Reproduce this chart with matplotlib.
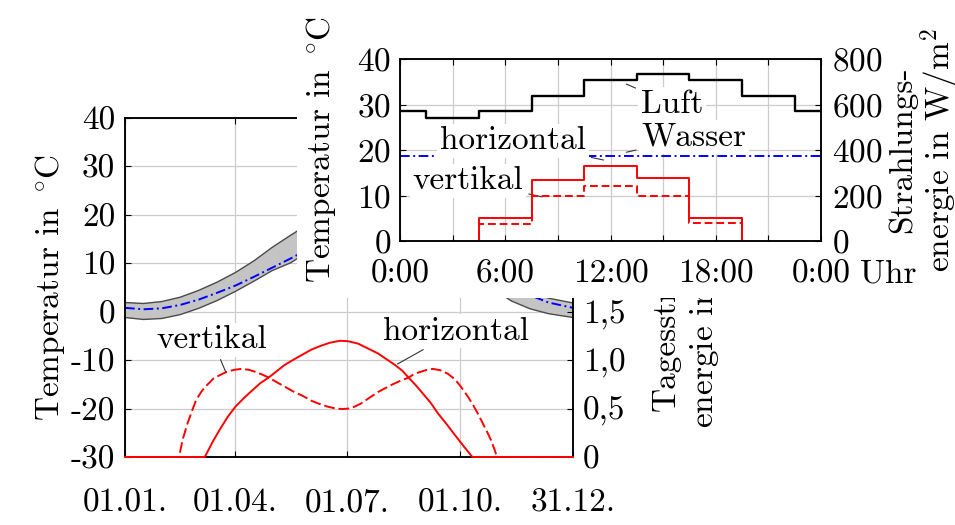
import matplotlib
matplotlib.use("Agg")
import matplotlib.pyplot as plt
from matplotlib.patches import Rectangle

plt.rcParams['font.family'] = 'cmr10'
plt.rcParams['mathtext.fontset'] = 'cm'
plt.rcParams['axes.unicode_minus'] = False
plt.rcParams['axes.formatter.use_mathtext'] = True
plt.rcParams['font.size'] = 24
plt.rcParams['axes.linewidth'] = 1.1

# --- Jahresverlauf (Tag im Jahr) ---
tage = [0, 15, 30, 45, 60, 75, 90, 105, 120, 135, 150, 165, 180,
        195, 210, 225, 240, 255, 270, 285, 300, 315, 330, 345, 365]
luft_max = [1.9, 1.7, 2.1, 3.0, 4.4, 6.1, 8.1, 10.5, 13.3, 15.8, 18.2, 20.6, 22.4,
            23.5, 23.8, 23.2, 21.6, 19.0, 15.8, 12.4, 9.2, 6.4, 4.2, 2.8, 1.8]
luft_min = [-1.2, -1.6, -1.4, -0.6, 0.7, 2.3, 4.2, 6.3, 8.5, 10.1, 12.5, 14.5, 16.0,
            17.0, 17.3, 16.8, 15.3, 12.8, 10.0, 7.2, 4.6, 2.2, 0.6, -0.4, -1.2]
wasser_jahr = [0.8, 0.5, 0.7, 1.4, 2.5, 3.9, 5.4, 7.2, 9.1, 11.0, 13.0, 15.0, 16.6,
               17.8, 18.5, 18.6, 17.9, 16.2, 13.8, 11.0, 8.2, 5.6, 3.4, 1.9, 0.8]

tage_hor = [0, 65, 72, 78, 84, 90, 97, 103, 110, 117, 124, 130, 138, 145, 152, 160,
            167, 175, 182, 190, 198, 206, 213, 220, 226, 231, 237, 243, 249, 255,
            262, 268, 276, 283, 365]
strahl_hor = [0, 0, 0.17, 0.30, 0.42, 0.52, 0.61, 0.68, 0.76, 0.82, 0.89, 0.95, 1.01, 1.06, 1.11, 1.15,
              1.18, 1.20, 1.195, 1.17, 1.12, 1.07, 1.01, 0.95, 0.89, 0.82, 0.74, 0.65, 0.56, 0.45,
              0.34, 0.24, 0.11, 0, 0]
tage_vert = [0, 44, 47, 51, 55, 58, 62, 65, 69, 72, 78, 83, 89, 95, 101, 106, 112, 117,
             124, 131, 138, 145, 152, 158, 165, 172, 177, 182, 187, 192, 199, 206, 212,
             218, 225, 231, 236, 241, 246, 251, 257, 263, 269, 274, 279, 283, 287, 291,
             295, 298, 301, 303, 365]
strahl_vert = [0, 0, 0.18, 0.35, 0.49, 0.59, 0.67, 0.72, 0.77, 0.81, 0.85, 0.88, 0.90, 0.91, 0.90, 0.88, 0.85, 0.82,
               0.77, 0.72, 0.67, 0.63, 0.58, 0.55, 0.52, 0.50, 0.495, 0.50, 0.52, 0.55, 0.61, 0.67, 0.71,
               0.75, 0.79, 0.82, 0.86, 0.88, 0.90, 0.91, 0.895, 0.86, 0.80, 0.72, 0.63, 0.55, 0.46, 0.36,
               0.26, 0.18, 0.08, 0, 0]

datum_pos = [0, 90, 181, 273, 365]
datum_txt = ['01.01.', '01.04.', '01.07.', '01.10.', '31.12.']
kwh_pos = [0, 0.5, 1.0, 1.5, 2.0, 2.5, 3.0, 3.5]
kwh_txt = ['0', '0,5', '1,0', '1,5', '', '', '', '']

# --- Tagesverlauf (Stunden) ---
stunden = [0, 3, 6, 9, 12, 15, 18, 21, 24]
stunden_txt = ['0:00', '', '6:00', '', '12:00', '', '18:00', '', '0:00']
luft_tag = [28.6, 27.1, 28.6, 31.9, 35.4, 36.7, 35.4, 31.9, 28.6]
wasser_tag = [18.7, 18.7, 18.7, 18.7, 18.7, 18.7, 18.7, 18.7, 18.7]
strahl_hor_tag = [0, 0, 100, 268, 330, 276, 102, 0, 0]
strahl_vert_tag = [0, 0, 76, 198, 243, 199, 78, 0, 0]

W, H = 955, 525


def fig_box(l, t, r, b):
    return [l / W, 1 - b / H, (r - l) / W, (b - t) / H]


grau = '#cccccc'
dashdot = (0, (5, 1.8, 1, 1.8))
txtbox = dict(boxstyle='square,pad=0.08', fc='white', ec='none')
zeiger = dict(arrowstyle='-', color='#333333', lw=0.8, shrinkA=2, shrinkB=0)
temp_label = r'Temperatur in $^\circ\!\mathrm{C}$'

fig = plt.figure(figsize=(W / 100, H / 100), dpi=100)

# Hauptdiagramm
ax = fig.add_axes(fig_box(125, 118, 573, 457))
ax.fill_between(tage, luft_min, luft_max, facecolor='#c4c4c4', edgecolor='none', zorder=2)
ax.plot(tage, luft_max, color='#4a4a4a', lw=1.0, zorder=2)
ax.plot(tage, luft_min, color='#4a4a4a', lw=1.0, zorder=2)
ax.plot(tage, wasser_jahr, color='blue', lw=1.4, ls=dashdot, zorder=2)
ax.set_xlim(0, 365)
ax.set_ylim(-30, 40)
ax.set_xticks(datum_pos, datum_txt)
ax.set_yticks(range(-30, 41, 10), ['-30', '-20', '-10', '0', '10', '20', '30', '40'])
ax.grid(True, color=grau, lw=0.9)
ax.set_axisbelow(True)
ax.tick_params(direction='in', length=4, width=0.8, top=True)
ax.tick_params(axis='x', pad=22.5)
ax.tick_params(axis='y', pad=7)
ax.set_ylabel(temp_label)
ax.yaxis.set_label_coords(-0.13, 0.5)

ax2 = ax.twinx()
ax2.set_ylim(0, 3.5)
ax2.set_yticks(kwh_pos, kwh_txt)
ax2.plot(tage_hor, strahl_hor, color='red', lw=1.4, clip_on=False, zorder=3)
ax2.plot(tage_vert, strahl_vert, color='red', lw=1.4, ls=(0, (5.5, 2)), clip_on=False, zorder=3)
ax2.tick_params(direction='in', length=4, width=0.8, pad=7)
ax2.set_ylabel('Tagesstrahlungs-\nenergie in kWh/m$^2$', linespacing=1.05)
ax2.yaxis.set_label_coords(1.176, 0.5)
ax2.annotate('vertikal', xy=(82, 0.88), xytext=(71, 1.21), ha='center', va='center',
             bbox=txtbox, arrowprops=zeiger, zorder=4)
ax2.annotate('horizontal', xy=(222, 0.96), xytext=(270, 1.30), ha='center', va='center',
             bbox=txtbox, arrowprops=zeiger, zorder=4)

# weisser Hintergrund fuer das Tagesdiagramm
fig.add_artist(Rectangle((297 / W, 1 - 298 / H), 1 - 297 / W, 298 / H,
                         transform=fig.transFigure, facecolor='white',
                         edgecolor='none', zorder=1))

# Tagesdiagramm
axi = fig.add_axes(fig_box(400, 59, 821, 241), zorder=2)
axi.step(stunden, luft_tag, where='mid', color='black', lw=1.7)
axi.plot(stunden, wasser_tag, color='blue', lw=1.4, ls=dashdot)
axi.set_xlim(0, 24)
axi.set_ylim(0, 40)
axi.set_xticks(stunden, stunden_txt)
axi.set_yticks([0, 10, 20, 30, 40])
axi.grid(True, color=grau, lw=0.9)
axi.set_axisbelow(True)
axi.tick_params(direction='in', length=4, width=0.8, top=True)
axi.tick_params(axis='x', pad=13)
axi.tick_params(axis='y', pad=6.5)
axi.set_ylabel(temp_label)
axi.yaxis.set_label_coords(-0.147, 0.5)
axi.annotate('Uhr', xy=(1, 0), xycoords='axes fraction', xytext=(28, -13),
             textcoords='offset points', ha='left', va='top', annotation_clip=False)
axi.annotate('Luft', xy=(12.9, 34.5), xytext=(15.5, 30.1), ha='center', va='center',
             bbox=txtbox, arrowprops=zeiger)
axi.annotate('Wasser', xy=(12.9, 19.5), xytext=(16.76, 22.9), ha='center', va='center',
             bbox=txtbox, arrowprops=zeiger)
axi.annotate('horizontal', xy=(11.6, 17.8), xytext=(6.44, 22.0), ha='center', va='center',
             bbox=txtbox, arrowprops=zeiger)
axi.annotate('vertikal', xy=(8.1, 9.7), xytext=(3.88, 13.2), ha='center', va='center',
             bbox=txtbox, arrowprops=zeiger)

axi2 = axi.twinx()
axi2.set_zorder(3)
axi2.step(stunden, strahl_hor_tag, where='mid', color='red', lw=1.4)
axi2.step(stunden, strahl_vert_tag, where='mid', color='red', lw=1.4, ls=(0, (4, 2)))
# Nulllinie der Strahlung verschwindet unter der Achse
for ln in axi2.lines:
    ln.set_clip_path(Rectangle((0, 0.008), 1, 1, transform=axi2.transAxes))
axi2.set_ylim(0, 800)
axi2.set_yticks([0, 200, 400, 600, 800])
axi2.tick_params(direction='in', length=4, width=0.8, pad=8)
axi2.set_ylabel('Strahlungs-\nenergie in W/m$^2$', linespacing=1.05)
axi2.yaxis.set_label_coords(1.158, 0.5)

fig.savefig('out.png', dpi=100)
